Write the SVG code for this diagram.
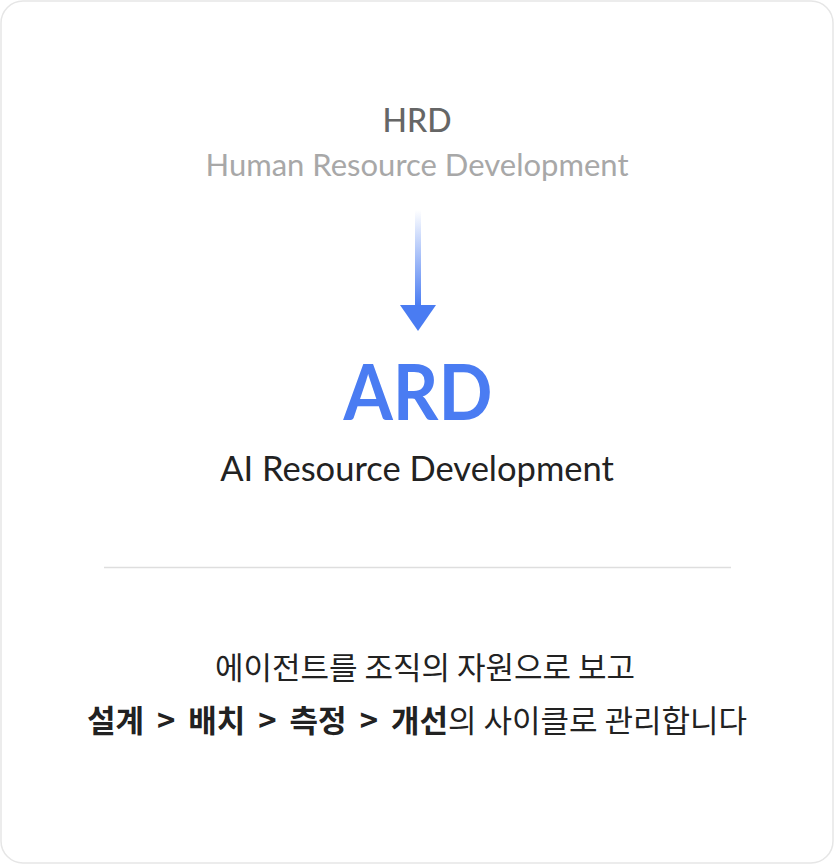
<svg xmlns="http://www.w3.org/2000/svg" width="834" height="864" viewBox="0 0 834 864">
<defs>
<linearGradient id="shaft" x1="0" y1="0" x2="0" y2="1">
<stop offset="0" stop-color="#4a7cf2" stop-opacity="0"/>
<stop offset="1" stop-color="#4a7cf2" stop-opacity="1"/>
</linearGradient>
<style>
.lat{font-family:Lato,"Liberation Sans",sans-serif;text-anchor:middle}
.kr{font-family:"Noto Sans CJK KR","Noto Sans",sans-serif;text-anchor:middle;fill:#222}
.b{font-weight:700}
</style>
</defs>
<rect x="1" y="1" width="832" height="862" rx="22" fill="#fff" stroke="#e6e6e6" stroke-width="1.5"/>
<g id="hrd">
<text class="lat" x="417" y="132" font-size="32" fill="#666" font-weight="500">HRD</text>
<text class="lat" x="417" y="176" font-size="31" fill="#a8a8a8">Human Resource Development</text>
</g>
<g id="connectors">
<rect x="415" y="210" width="6" height="96" fill="url(#shaft)"/>
<polygon points="400,305 436,305 418,331" fill="#4a7cf2"/>
</g>
<g id="ard">
<text class="lat" x="418" y="420" font-size="76" font-weight="700" fill="#4a7cf2" textLength="149" lengthAdjust="spacingAndGlyphs">ARD</text>
<text class="lat" x="417" y="481" font-size="34.5" fill="#222">AI Resource Development</text>
</g>
<line x1="104" y1="567.5" x2="731" y2="567.5" stroke="#dedede" stroke-width="1.5"/>
<g id="desc">
<text class="kr" x="425" y="679" font-size="31">에이전트를 조직의 자원으로 보고</text>
<text class="kr" x="417" y="732" font-size="31"><tspan class="b">설계</tspan><tspan class="b" dx="13">&gt;</tspan><tspan class="b" dx="13">배치</tspan><tspan class="b" dx="13">&gt;</tspan><tspan class="b" dx="13">측정</tspan><tspan class="b" dx="13">&gt;</tspan><tspan class="b" dx="13">개선</tspan><tspan>의 사이클로 관리합니다</tspan></text>
</g>
</svg>
